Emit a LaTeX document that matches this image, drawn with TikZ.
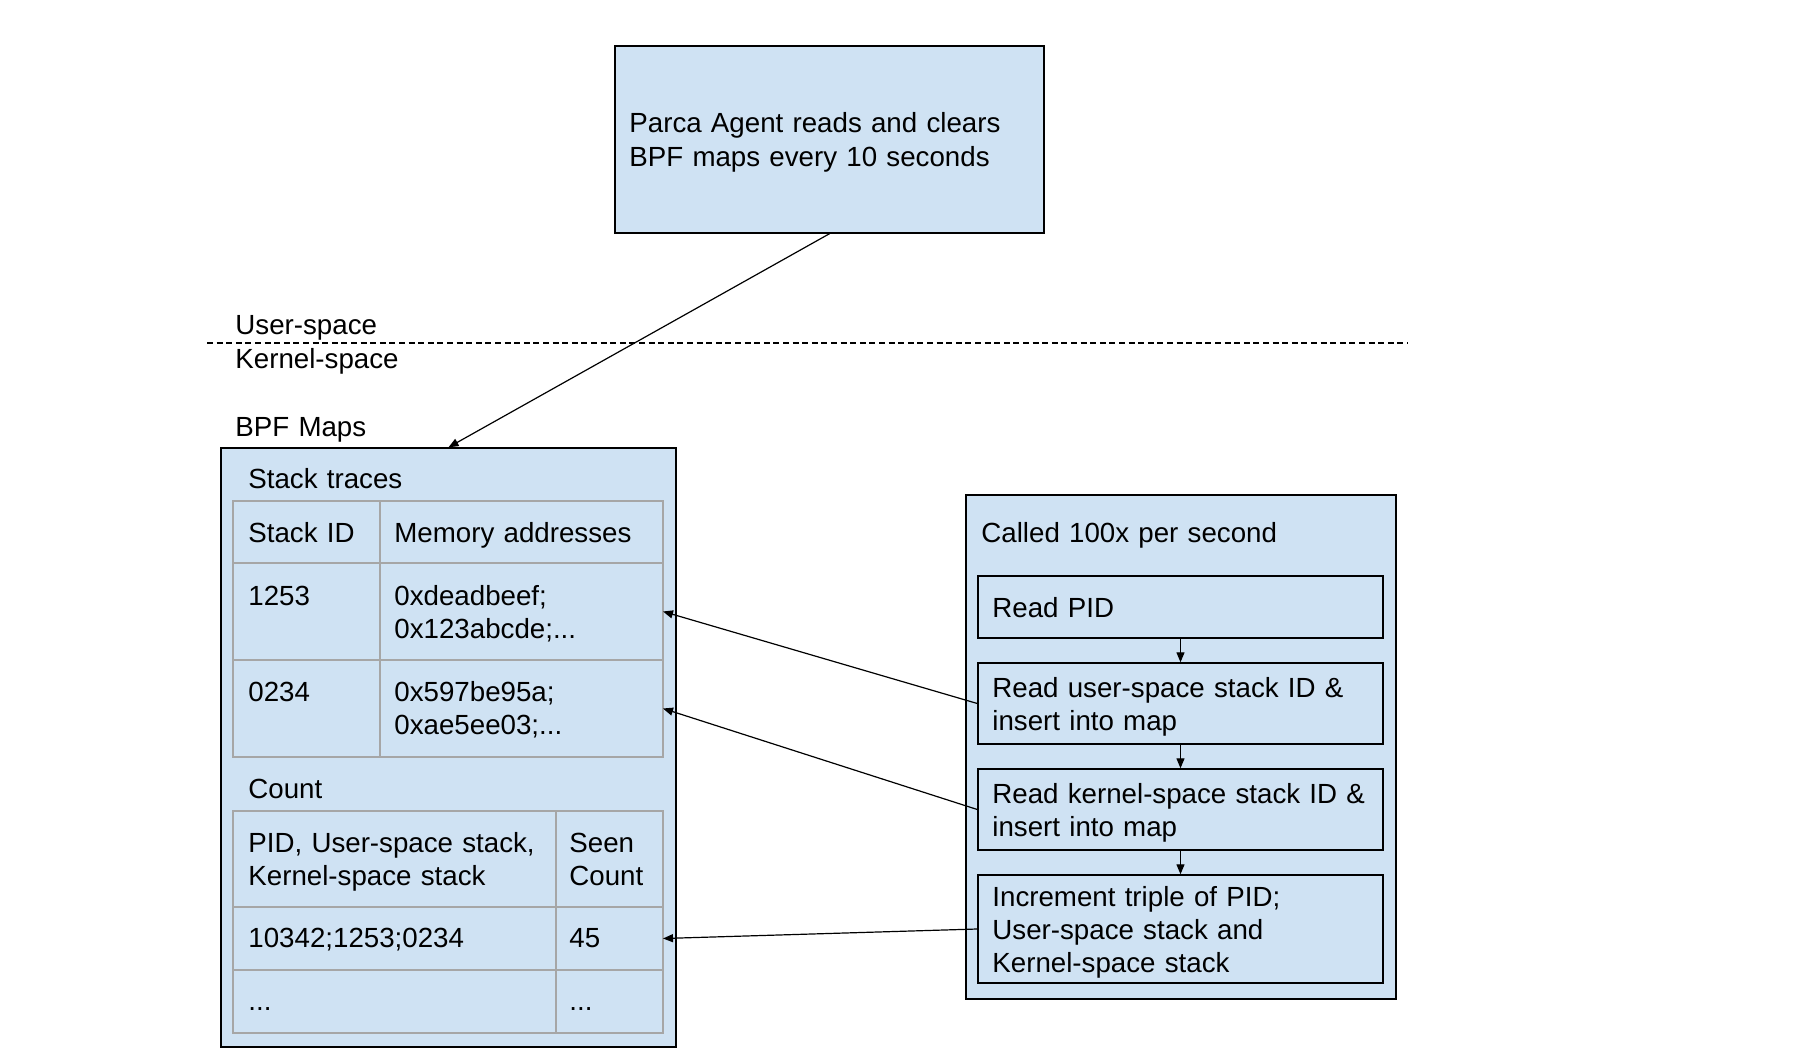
\documentclass[tikz,border=0pt]{standalone}
\usepackage{fontspec}
\setmainfont{Liberation Sans}
\usetikzlibrary{arrows.meta}
\definecolor{boxblue}{HTML}{CFE2F3}
\definecolor{gridgray}{HTML}{A6A6A6}
\begin{document}
\begin{tikzpicture}[x=0.5pt,y=-0.5pt,
  every node/.style={font=\fontsize{13.85pt}{16.5pt}\selectfont},
  box/.style={draw=black, line width=0.7pt, fill=boxblue, inner sep=0pt},
  txt/.style={anchor=base west, inner sep=0pt, text width=#1, align=left},
  txt/.default=200pt,
  conn/.style={line width=0.6pt, -{Triangle[length=5pt,width=4pt]}},
  grid/.style={draw=gridgray, line width=1pt},
  divider/.style={line width=0.65pt, dash pattern=on 3pt off 1.8pt}
]
\useasboundingbox (0,0) rectangle (1796,1060);

% boxes
\node[box, minimum width=214.5pt, minimum height=93.5pt] (agent) at (829.5,139.5) {};
\node[box, minimum width=227.5pt, minimum height=299.5pt] (maps) at (448.5,747.5) {};
\node[box, minimum width=215pt, minimum height=252pt] (calls) at (1181,747) {};
\node[box, minimum width=202.5pt, minimum height=31pt] (b1) at (1180.5,607) {};
\node[box, minimum width=202.5pt, minimum height=40.5pt] (b2) at (1180.5,703.5) {};
\node[box, minimum width=202.5pt, minimum height=40.5pt] (b3) at (1180.5,809.5) {};
\node[box, minimum width=202.5pt, minimum height=54pt] (b4) at (1180.5,929) {};

% dashed separator
\draw[divider] (207,343) -- (1408,343);

% texts outside boxes
\node[txt=200pt, font=\fontsize{13.85pt}{17pt}\selectfont] (agenttxt) at (629,132.5) {Parca Agent reads and clears\\BPF maps every 10 seconds};
\node[txt=120pt] (user) at (235,334) {User-space};
\node[txt=120pt] (kernel) at (235,368) {Kernel-space};
\node[txt=120pt] (bpfmaps) at (235,436) {BPF Maps};

% stack traces table
\node[txt=150pt] (sttitle) at (248,488) {Stack traces};
\draw[grid] (233,501) rectangle (663,757);
\draw[grid] (233,563) -- (663,563);
\draw[grid] (233,660) -- (663,660);
\draw[grid] (380,501) -- (380,757);
\node[txt=60pt] (h1) at (248,542) {Stack ID};
\node[txt=125pt] (h2) at (394,542) {Memory addresses};
\node[txt=60pt] (c11) at (248,605) {1253};
\node[txt=125pt] (c12) at (394,605) {0xdeadbeef;\\0x123abcde;...};
\node[txt=60pt] (c21) at (248,701) {0234};
\node[txt=125pt] (c22) at (394,701) {0x597be95a;\\0xae5ee03;...};

% count table
\node[txt=150pt] (cttitle) at (248,798) {Count};
\draw[grid] (233,811) rectangle (663,1033);
\draw[grid] (233,907) -- (663,907);
\draw[grid] (233,970) -- (663,970);
\draw[grid] (556,811) -- (556,1033);
\node[txt=150pt] (k1) at (248,852) {PID, User-space stack,\\Kernel-space stack};
\node[txt=40pt] (k2) at (569,852) {Seen\\Count};
\node[txt=150pt] (d11) at (248,947) {10342;1253;0234};
\node[txt=40pt] (d12) at (569,947) {45};
\node[txt=150pt] (d21) at (248,1010) {...};
\node[txt=40pt] (d22) at (569,1010) {...};

\coordinate (row1) at (663,611.5);
\coordinate (row2) at (663,708.5);
\coordinate (row3) at (663,938.5);

% right side texts
\node[txt=200pt] (callstxt) at (981,542) {Called 100x per second};
\node[txt=195pt] (t1) at (992,617) {Read PID};
\node[txt=195pt] (t2) at (992,697) {Read user-space stack ID \&\\insert into map};
\node[txt=195pt] (t3) at (992,803) {Read kernel-space stack ID \&\\insert into map};
\node[txt=195pt] (t4) at (992,906) {Increment triple of PID;\\User-space stack and\\Kernel-space stack};

% connectors
\draw[conn] (agent.south) -- (maps.north);
\draw[conn] (b1.south) -- (b2.north);
\draw[conn] (b2.south) -- (b3.north);
\draw[conn] (b3.south) -- (b4.north);
\draw[conn] (b2.west) -- (row1);
\draw[conn] (b3.west) -- (row2);
\draw[conn] (b4.west) -- (row3);
\end{tikzpicture}
\end{document}
